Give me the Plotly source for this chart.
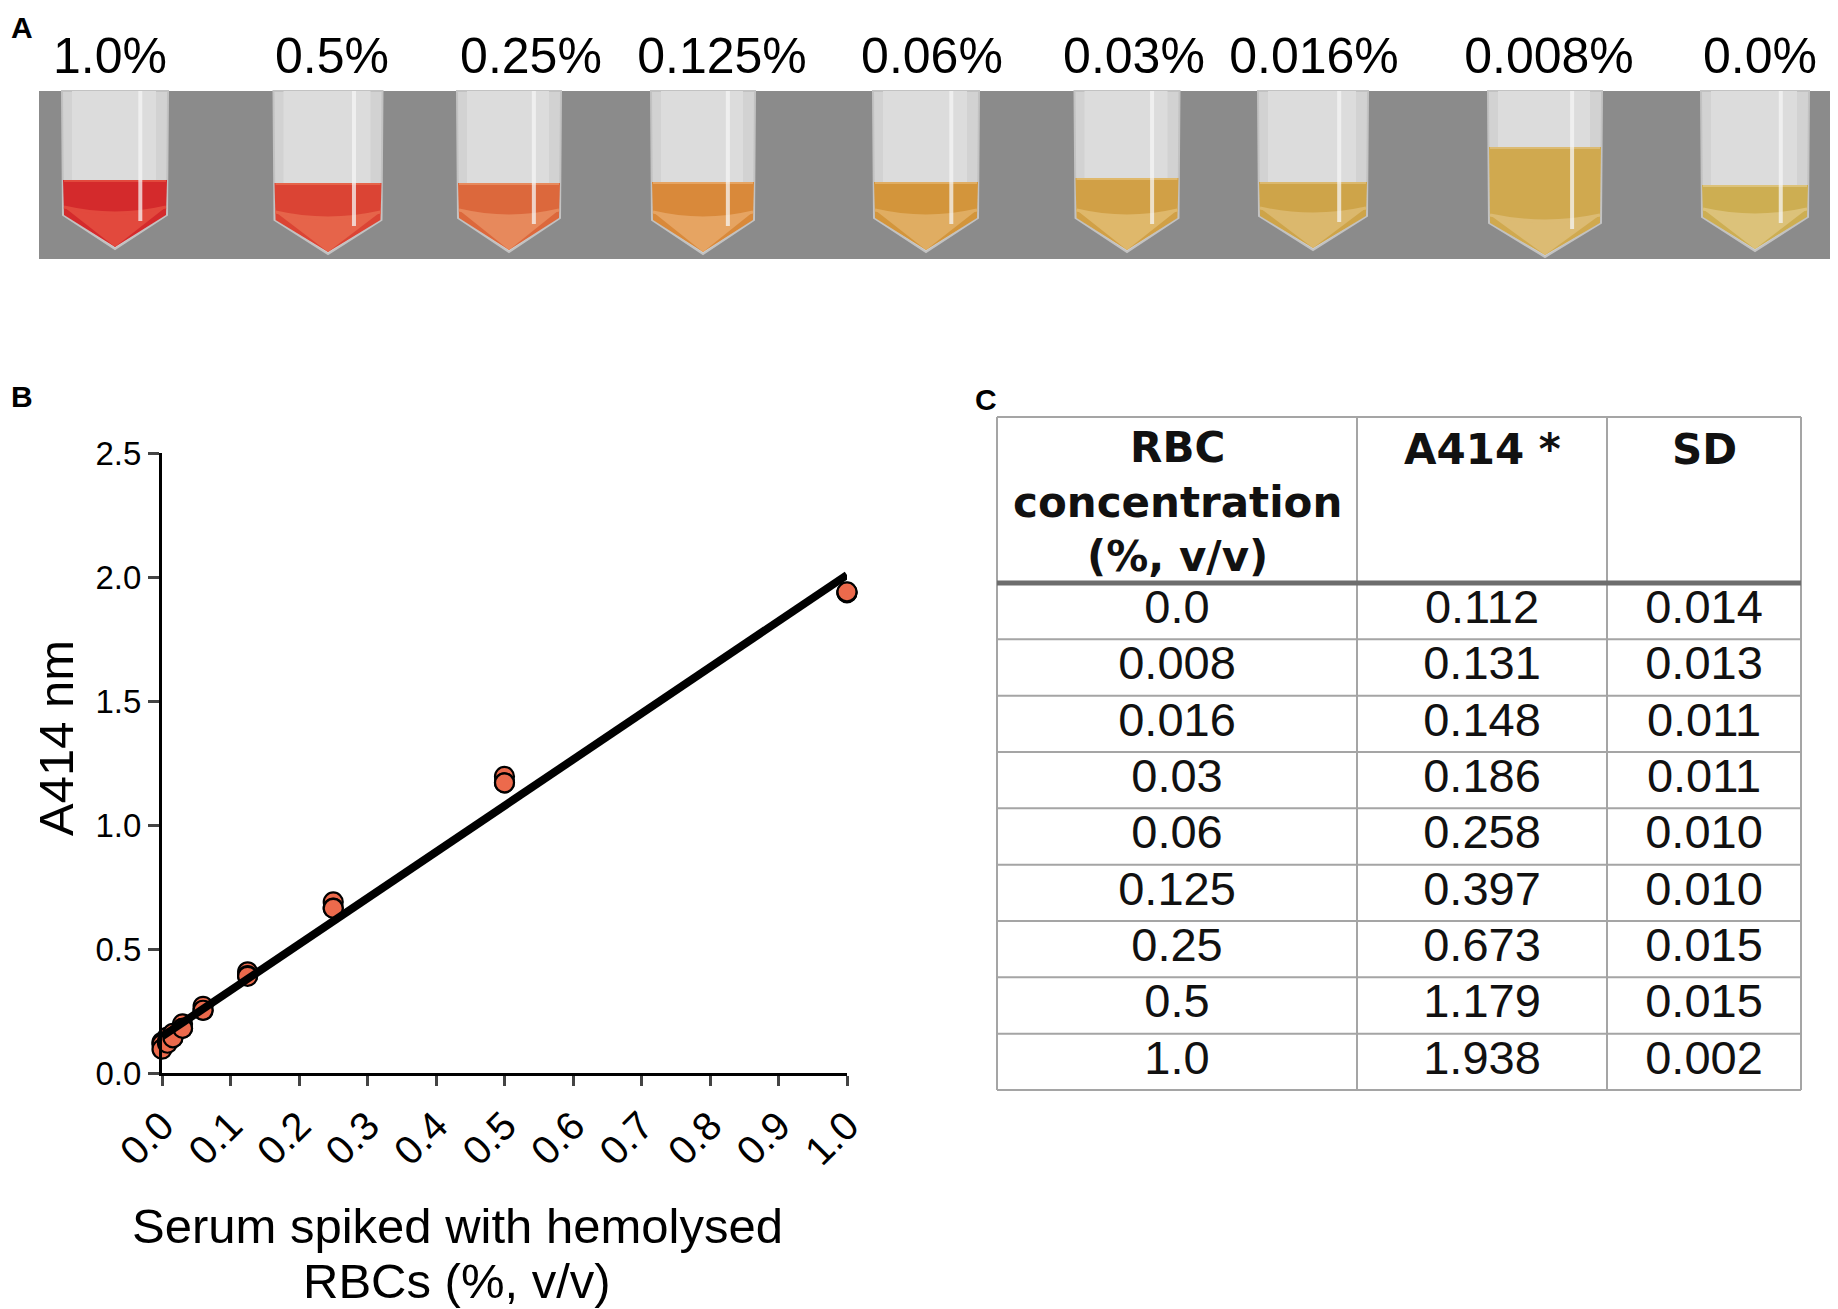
import plotly.graph_objects as go

W, H = 1838, 1309
OFF = 8                      # page body margin in the browser
FW, FH = W - OFF, H - OFF    # figure size

# ---------------- data ----------------
tube_labels = ["1.0%", "0.5%", "0.25%", "0.125%", "0.06%", "0.03%", "0.016%", "0.008%", "0.0%"]
tube_liquid_colors = ["#d42a2c", "#db4434", "#dc683c", "#d9893a", "#d3953b", "#d1a046",
                      "#cea449", "#d0a94f", "#cdae52"]
tube_cone_colors = ["#e2493d", "#e6644a", "#e7895c", "#e6a462", "#e0ad62", "#dfb86b",
                    "#dbb86d", "#dcbb73", "#dcc27a"]

rbc_conc = [0.0, 0.008, 0.016, 0.03, 0.06, 0.125, 0.25, 0.5, 1.0]
a414_rep1 = [0.124, 0.145, 0.160, 0.198, 0.269, 0.408, 0.690, 1.196, 1.936]
a414_rep2 = [0.116, 0.128, 0.142, 0.180, 0.252, 0.393, 0.665, 1.170, 1.938]
a414_rep3 = [0.096, 0.120, 0.142, 0.180, 0.253, 0.390, 0.664, 1.170, 1.940]

fit_x = [0.0, 1.0]
fit_y = [0.147, 2.008]

table_headers = ["RBC<br>concentration<br>(%, v/v)", "A414 *", "SD"]
table_conc = ["0.0", "0.008", "0.016", "0.03", "0.06", "0.125", "0.25", "0.5", "1.0"]
table_a414 = ["0.112", "0.131", "0.148", "0.186", "0.258", "0.397", "0.673", "1.179", "1.938"]
table_sd = ["0.014", "0.013", "0.011", "0.011", "0.010", "0.010", "0.015", "0.015", "0.002"]

# ---------------- layout geometry (target pixel canvas) ----------------
FONT = "Liberation Sans, Arial, Helvetica, sans-serif"
BOLDW = "DejaVu Sans, Liberation Sans, Arial, sans-serif"

band = dict(x0=39, x1=1834, y0=91, y1=259)
tube_centers = [115, 328, 509, 703, 926, 1127, 1313, 1545, 1755]
tube_widths = [106, 109, 104, 104, 106, 105, 110, 114, 108]
liquid_tops = [180, 183, 183, 182, 182, 178, 182, 147, 185]
tube_tips = [247, 252, 250, 252, 250, 250, 248, 255, 249]
label_x = [110, 332, 531, 722, 932, 1134, 1314, 1549, 1760]
label_y = 60

col_edges = [997, 1357, 1607, 1801]
tab_top, head_bot, tab_bot = 417, 583, 1090
row_h = (tab_bot - head_bot) / len(table_conc)

# panel B plot area (target pixels)
bx0, bx1, by0, by1 = 162, 847, 453, 1073

fig = go.Figure()

# ---------- Panel B ----------
reps_x = rbc_conc * 3
reps_y = a414_rep1 + a414_rep2 + a414_rep3
fig.add_trace(go.Scatter(
    x=reps_x, y=reps_y, mode="markers", cliponaxis=False, showlegend=False,
    marker=dict(size=19, color="#ec6a4c", line=dict(color="black", width=2.2)),
    xaxis="x", yaxis="y"))
fig.add_trace(go.Scatter(
    x=fit_x, y=fit_y, mode="lines", cliponaxis=False, showlegend=False,
    line=dict(color="black", width=8), xaxis="x", yaxis="y"))

# ---------- canvas traces (panel A labels, table text) ----------
fig.add_trace(go.Scatter(
    x=label_x, y=[label_y] * len(tube_labels), text=tube_labels, mode="text",
    textfont=dict(family=FONT, size=50, color="black"), cliponaxis=False,
    showlegend=False, xaxis="x2", yaxis="y2", textposition="middle center"))

col_centers = [(col_edges[i] + col_edges[i + 1]) / 2 for i in range(3)]
row_centers = [head_bot + (k + 0.5) * row_h for k in range(len(table_conc))]
for ci, col in enumerate([table_conc, table_a414, table_sd]):
    fig.add_trace(go.Scatter(
        x=[col_centers[ci]] * len(col), y=row_centers, text=col, mode="text",
        textfont=dict(family=FONT, size=47, color="#111111"), cliponaxis=False,
        showlegend=False, xaxis="x2", yaxis="y2", textposition="middle center"))

shapes = []
# gray photo background
shapes.append(dict(type="rect", xref="x2", yref="y2", layer="below",
                   fillcolor="#8b8b8b", line=dict(width=0), **band))
for i in range(len(tube_labels)):
    c, w = tube_centers[i], tube_widths[i]
    lt, tip = liquid_tops[i], tube_tips[i]
    cs = tip - 32
    l, r = c - w / 2, c + w / 2
    # tube body
    shapes.append(dict(type="path", xref="x2", yref="y2", layer="below",
                       path=f"M{l},{band['y0']} L{r},{band['y0']} L{r - 1},{cs} L{c},{tip + 2} L{l + 1},{cs} Z",
                       fillcolor="#d2d2d2", line=dict(color="#c2c2c2", width=2)))
    shapes.append(dict(type="rect", xref="x2", yref="y2", layer="below",
                       x0=l + 10, x1=r - 12, y0=band['y0'], y1=lt,
                       fillcolor="#dcdcdc", line=dict(width=0)))
    # liquid
    shapes.append(dict(type="path", xref="x2", yref="y2", layer="below",
                       path=f"M{l + 1},{lt} L{r - 1},{lt} L{r - 2},{cs} L{c},{tip} L{l + 2},{cs} Z",
                       fillcolor=tube_liquid_colors[i], line=dict(width=0)))
    # lighter cone
    shapes.append(dict(type="path", xref="x2", yref="y2", layer="below",
                       path=f"M{l + 2},{cs - 8} Q{c},{cs + 4} {r - 2},{cs - 8} L{c},{tip} Z",
                       fillcolor=tube_cone_colors[i], line=dict(width=0)))
    # rim line at cone start
    shapes.append(dict(type="path", xref="x2", yref="y2", layer="below",
                       path=f"M{l + 2},{cs - 8} Q{c},{cs + 4} {r - 2},{cs - 8}",
                       line=dict(color=tube_cone_colors[i], width=3)))
    # meniscus
    shapes.append(dict(type="line", xref="x2", yref="y2", layer="below",
                       x0=l + 2, x1=r - 2, y0=lt + 1, y1=lt + 1,
                       line=dict(color=tube_cone_colors[i], width=2)))
    # vertical glare line
    gx = c + 0.22 * w
    shapes.append(dict(type="rect", xref="x2", yref="y2", layer="below",
                       x0=gx, x1=gx + 4, y0=band['y0'], y1=cs + 6,
                       fillcolor="rgba(245,245,245,0.75)", line=dict(width=0)))

# table grid
grid_col = "#a5a5a5"
for xe in col_edges:
    shapes.append(dict(type="line", xref="x2", yref="y2", x0=xe, x1=xe, y0=tab_top, y1=tab_bot,
                       line=dict(color=grid_col, width=2)))
shapes.append(dict(type="line", xref="x2", yref="y2", x0=col_edges[0], x1=col_edges[-1],
                   y0=tab_top, y1=tab_top, line=dict(color=grid_col, width=2)))
for k in range(1, len(table_conc) + 1):
    yy = head_bot + k * row_h
    shapes.append(dict(type="line", xref="x2", yref="y2", x0=col_edges[0], x1=col_edges[-1],
                       y0=yy, y1=yy, line=dict(color=grid_col, width=2)))
shapes.append(dict(type="line", xref="x2", yref="y2", x0=col_edges[0], x1=col_edges[-1],
                   y0=head_bot, y1=head_bot, line=dict(color="#6d6d6d", width=5)))

annotations = []
# header texts
annotations.append(dict(xref="x2", yref="y2", x=col_centers[0], y=502, text=table_headers[0],
                        showarrow=False, xanchor="center", yanchor="middle",
                        font=dict(family=BOLDW, size=42, color="#111111", weight="bold")))
for ci in (1, 2):
    annotations.append(dict(xref="x2", yref="y2", x=col_centers[ci], y=449, text=table_headers[ci],
                            showarrow=False, xanchor="center", yanchor="middle",
                            font=dict(family=BOLDW, size=42, color="#111111", weight="bold")))
# panel letters
for letter, px, py, ya in [("A", 9, OFF + 1, "top"), ("B", 9, 396, "middle"),
                           ("C", 973, 399, "middle")]:
    annotations.append(dict(xref="x2", yref="y2", x=px, y=py, text=letter, showarrow=False,
                            xanchor="left", yanchor=ya,
                            font=dict(family=FONT, size=30, color="black", weight="bold")))
# panel B axis titles
annotations.append(dict(xref="x2", yref="y2", x=56, y=738, text="A414 nm", textangle=-90,
                        showarrow=False, xanchor="center", yanchor="middle",
                        font=dict(family=FONT, size=49, color="black")))
annotations.append(dict(xref="x2", yref="y2", x=457, y=1226, text="Serum spiked with hemolysed",
                        showarrow=False, xanchor="center", yanchor="middle",
                        font=dict(family=FONT, size=49, color="black")))
annotations.append(dict(xref="x2", yref="y2", x=457, y=1281, text="RBCs (%, v/v)",
                        showarrow=False, xanchor="center", yanchor="middle",
                        font=dict(family=FONT, size=49, color="black")))


def dom_x(a, b):
    return [(a - OFF) / FW, (b - OFF) / FW]


def dom_y(top, bottom):
    return [1 - (bottom - OFF) / FH, 1 - (top - OFF) / FH]


fig.update_layout(
    width=FW, height=FH, margin=dict(l=0, r=0, t=0, b=0, pad=0, autoexpand=False),
    paper_bgcolor="white", plot_bgcolor="rgba(0,0,0,0)",
    showlegend=False, shapes=shapes, annotations=annotations,
    xaxis=dict(domain=dom_x(bx0, bx1), range=[0, 1.0], dtick=0.1, tick0=0,
               tickformat=".1f", tickangle=-45, ticks="outside", ticklen=10, tickwidth=3,
               showline=True, linewidth=3, linecolor="black", showgrid=False, zeroline=False,
               tickfont=dict(family=FONT, size=40, color="black"), anchor="y", automargin=False),
    yaxis=dict(domain=dom_y(by0, by1), range=[0, 2.5], dtick=0.5, tick0=0,
               tickformat=".1f", ticks="outside", ticklen=11, tickwidth=3,
               showline=True, linewidth=3, linecolor="black", showgrid=False, zeroline=False,
               tickfont=dict(family=FONT, size=33, color="black"), anchor="x", automargin=False),
    xaxis2=dict(domain=[0, 1], range=[OFF, W], visible=False, anchor="y2", automargin=False),
    yaxis2=dict(domain=[0, 1], range=[H, OFF], visible=False, anchor="x2", automargin=False),
)

fig.write_html("out.html")
